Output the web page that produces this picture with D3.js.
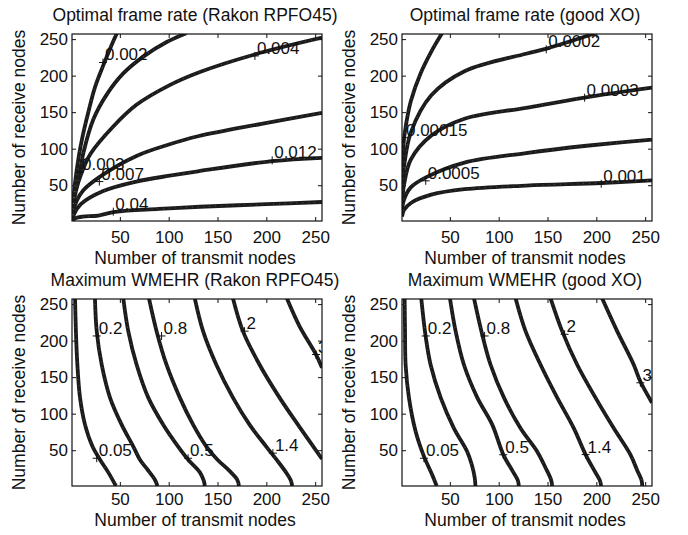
<!DOCTYPE html>
<html>
<head>
<meta charset="utf-8">
<script src="https://cdn.jsdelivr.net/npm/d3@7"></script>
<style>
  body { margin: 0; background: #fff; }
  svg text { font-family: "Liberation Sans", Arial, sans-serif; fill: #111; }
  .axis text { font-size: 17px; }
  .axis line { stroke: #111; }
  .axis path { display: none; }
  .frame { fill: none; stroke: #111; stroke-width: 1.2; }
  .contour { fill: none; stroke: #1b1b1b; stroke-width: 3.8; stroke-linejoin: round; }
  .grain { fill: none; stroke: #9a9a9a; stroke-width: 0.8; stroke-dasharray: 0.8 5; opacity: 0.6; }
  .plus { stroke: #111; stroke-width: 1; }
  .clabel { font-size: 17px; }
  .title, .label { font-size: 17.5px; text-anchor: middle; }
</style>
</head>
<body>
<div id="chart"></div>
<script>
// ticks used on every axis
var tickValues = [50, 100, 150, 200, 250];

// Optimal frame rate (Rakon RPFO45) - one array of [transmit, receive] points per contour
var rateRakonLevels = ["0.002", "0.003", "0.004", "0.007", "0.012", "0.04"];
var rateRakonLines = [
    [[1, 1], [1.8, 18], [4, 52], [8, 90], [12, 118], [17.7, 150], [24.5, 184], [33, 214], [41.6, 242], [47, 258]],
    [[1, 1], [2, 22], [5, 50], [9.2, 70], [12.6, 94], [22.8, 140], [36.5, 174], [53.5, 203], [74, 226], [98, 246], [118, 258]],
    [[1, 1], [2, 18], [5, 42], [10, 64], [20, 93], [43, 130], [67, 160], [101, 187], [132, 205], [188, 229], [257, 252]],
    [[1, 1], [2.3, 14], [6, 29], [12.6, 43], [29, 61], [67, 90], [101, 106], [130, 117], [195, 134], [257, 149]],
    [[1, 1], [3, 10], [10, 24], [33, 42], [67, 55], [101, 63], [130, 69], [206, 83], [257, 87.5]],
    [[1, 1], [5, 5], [12, 7], [28, 8.5], [45, 13.5], [90, 17.5], [132, 20.5], [200, 24], [257, 27]]
];
var rateRakonMarks = [[32.7, 218], [9.2, 68], [188.3, 227], [29, 55], [206, 84], [43.3, 13.8]];

// Optimal frame rate (good XO)
var rateXoLevels = ["0.00015", "0.0002", "0.0003", "0.0005", "0.001"];
var rateXoLines = [
    [[1, 58], [1.8, 88], [3, 112], [5, 132], [10, 165], [20, 203], [31, 233], [42, 258]],
    [[1, 42], [2, 62], [3, 75], [10, 122], [31, 173], [65, 206], [128, 230], [149, 237], [199, 258]],
    [[1, 27], [2, 40], [3, 50], [10, 85], [31, 118], [65, 141], [128, 156], [188, 170], [257, 183.5]],
    [[1, 15], [3, 30], [10, 47], [26, 61], [65, 81], [128, 94], [190, 104], [257, 112.5]],
    [[1, 7], [3, 16], [10.5, 26], [31, 37], [65, 44.5], [128, 49.5], [205, 53], [257, 56.5]]
];
var rateXoMarks = [[3, 115], [148.7, 236], [188, 169.8], [25.3, 56], [205, 52]];

// Maximum WMEHR (Rakon RPFO45)
var wmehrRakonLevels = ["0.05", "0.2", "0.5", "0.8", "1.4", "2", "3"];
var wmehrRakonLines = [
    [[4.1, 258], [5, 213], [6.5, 167], [9.2, 122], [14.3, 85], [22, 55], [29.7, 37], [38, 20], [46, 1]],
    [[24.5, 258], [26.3, 213], [31.4, 167], [39.9, 122], [51.8, 85], [63.8, 55], [70.6, 37], [77.4, 25], [85.9, 9.6], [88.5, 1]],
    [[53.5, 258], [58.6, 213], [67.2, 167], [79.1, 122], [94.4, 85], [109.7, 55], [120, 37], [131.8, 20], [136, 8], [137, 1]],
    [[79.8, 258], [87.6, 213], [97.8, 167], [111.4, 122], [125, 85], [138.6, 55], [150, 37], [162, 22], [170, 10], [172, 1]],
    [[126.7, 258], [135.2, 213], [148.8, 167], [165.8, 122], [182.8, 85], [199.9, 55], [210.5, 37], [220, 20], [225, 9], [226.5, 1]],
    [[165.8, 258], [176, 213], [193.1, 167], [213.5, 122], [233.9, 82], [257, 38]],
    [[221, 258], [233.9, 220], [250.9, 181], [257, 163]]
];
var wmehrRakonMarks = [[26.3, 39], [26.3, 206.4], [119.9, 39], [92.7, 206.4], [206.7, 46], [177.7, 213], [250.9, 181]];

// Maximum WMEHR (good XO)
var wmehrXoLevels = ["0.05", "0.2", "0.5", "0.8", "1.4", "2", "3"];
var wmehrXoLines = [
    [[3.7, 258], [4.1, 213], [4.7, 167], [8.1, 122], [14.9, 76], [23.5, 41.5], [32, 16], [36.5, 1]],
    [[20.7, 258], [25.2, 206], [30.3, 167], [40.6, 122], [54.2, 80], [67.8, 48], [72.5, 30], [75.5, 12], [76.2, 1]],
    [[50.1, 258], [55.9, 213], [64.4, 167], [78.1, 122], [93.4, 85], [104.7, 44], [114, 22], [119.5, 9], [120.7, 1]],
    [[74.7, 258], [83.2, 208], [91.7, 167], [105.4, 122], [122.4, 80], [139.5, 48], [148, 26], [153.5, 10], [154.8, 1]],
    [[117.3, 258], [127.5, 213], [142.9, 167], [159.9, 122], [177, 80], [189, 44], [198, 22], [203.5, 9], [205, 1]],
    [[153.1, 258], [165, 213], [180.4, 167], [199.1, 122], [217.9, 80], [234.9, 44], [242, 22], [246.3, 9], [247, 1]],
    [[205.9, 258], [221.3, 213], [238.3, 167], [245.1, 144], [257, 115]]
];
var wmehrXoMarks = [[23.5, 39], [25.3, 206.4], [104.7, 43.8], [85.6, 206.4], [189, 44], [167.5, 208.7], [245.1, 142.3]];

var w = 688,
    h = 535;

var svg = d3.select("#chart")
    .append("svg")
    .attr("width", w)
    .attr("height", h);

svg.append("rect").attr("width", w).attr("height", h).attr("fill", "#fff");

var plotW = 250,
    plotH = 187;

// panel frames are built here, data stays in the arrays above
var panels = [
    { title: "Optimal frame rate (Rakon RPFO45)", levels: rateRakonLevels, lines: rateRakonLines, marks: rateRakonMarks, left: 72, top: 34 },
    { title: "Optimal frame rate (good XO)", levels: rateXoLevels, lines: rateXoLines, marks: rateXoMarks, left: 402, top: 34 },
    { title: "Maximum WMEHR (Rakon RPFO45)", levels: wmehrRakonLevels, lines: wmehrRakonLines, marks: wmehrRakonMarks, left: 72, top: 299 },
    { title: "Maximum WMEHR (good XO)", levels: wmehrXoLevels, lines: wmehrXoLines, marks: wmehrXoMarks, left: 402, top: 299 }
];

panels.forEach(function (p, i) {

    var g = svg.append("g");
    var topRow = p.top < 100;

    var xScale = d3.scaleLinear()
        .domain([1, 257])
        .range([p.left, p.left + plotW]);

    var yScale = d3.scaleLinear()
        .domain([1, 257])
        .range([p.top + plotH, p.top]);

    var clipId = "clip" + i;
    g.append("clipPath")
        .attr("id", clipId)
        .append("rect")
        .attr("x", p.left)
        .attr("y", p.top)
        .attr("width", plotW)
        .attr("height", plotH);

    // ticks point inwards on all four sides, matlab style
    g.append("g")
        .attr("class", "axis")
        .attr("transform", "translate(0," + (p.top + plotH) + ")")
        .call(d3.axisBottom(xScale).tickValues(tickValues).tickSize(-4).tickPadding(topRow ? 10 : 7));

    g.append("g")
        .attr("class", "axis")
        .attr("transform", "translate(0," + p.top + ")")
        .call(d3.axisTop(xScale).tickValues(tickValues).tickSize(-4).tickFormat(""));

    g.append("g")
        .attr("class", "axis")
        .attr("transform", "translate(" + p.left + ",0)")
        .call(d3.axisLeft(yScale).tickValues(tickValues).tickSize(-4).tickPadding(4));

    g.append("g")
        .attr("class", "axis")
        .attr("transform", "translate(" + (p.left + plotW) + ",0)")
        .call(d3.axisRight(yScale).tickValues(tickValues).tickSize(-4).tickFormat(""));

    var line = d3.line()
        .x(function (d) { return xScale(d[0]); })
        .y(function (d) { return yScale(d[1]); })
        .curve(d3.curveCatmullRom.alpha(0.5));

    var inner = g.append("g").attr("clip-path", "url(#" + clipId + ")");

    inner.selectAll(".contour")
        .data(p.lines)
        .enter()
        .append("path")
        .attr("class", "contour")
        .attr("d", line);

    // faint speckle seen on the scanned lines
    inner.selectAll(".grain")
        .data(p.lines)
        .enter()
        .append("path")
        .attr("class", "grain")
        .attr("d", line);

    // contour labels: a "+" on the line and the level next to it
    var marks = inner.selectAll(".mark")
        .data(p.marks)
        .enter()
        .append("g")
        .attr("class", "mark")
        .attr("transform", function (d) {
            return "translate(" + xScale(d[0]) + "," + yScale(d[1]) + ")";
        });

    marks.append("line").attr("class", "plus").attr("x1", -4).attr("x2", 4);
    marks.append("line").attr("class", "plus").attr("y1", -4).attr("y2", 4);

    marks.append("text")
        .attr("class", "clabel")
        .attr("x", 2)
        .attr("y", -2)
        .text(function (d, j) { return p.levels[j]; });

    g.append("rect")
        .attr("class", "frame")
        .attr("x", p.left)
        .attr("y", p.top)
        .attr("width", plotW)
        .attr("height", plotH);

    // titles and axis labels
    g.append("text")
        .attr("class", "title")
        .attr("x", p.left + plotW / 2 - 2)
        .attr("y", p.top - 13)
        .text(p.title);

    g.append("text")
        .attr("class", "label")
        .attr("x", p.left + plotW / 2 - 2)
        .attr("y", p.top + plotH + (topRow ? 43 : 40))
        .text("Number of transmit nodes");

    g.append("text")
        .attr("class", "label")
        .attr("transform", "translate(" + (p.left - 47) + "," + (p.top + plotH / 2) + ") rotate(-90)")
        .text("Number of receive nodes");
});
</script>
</body>
</html>
